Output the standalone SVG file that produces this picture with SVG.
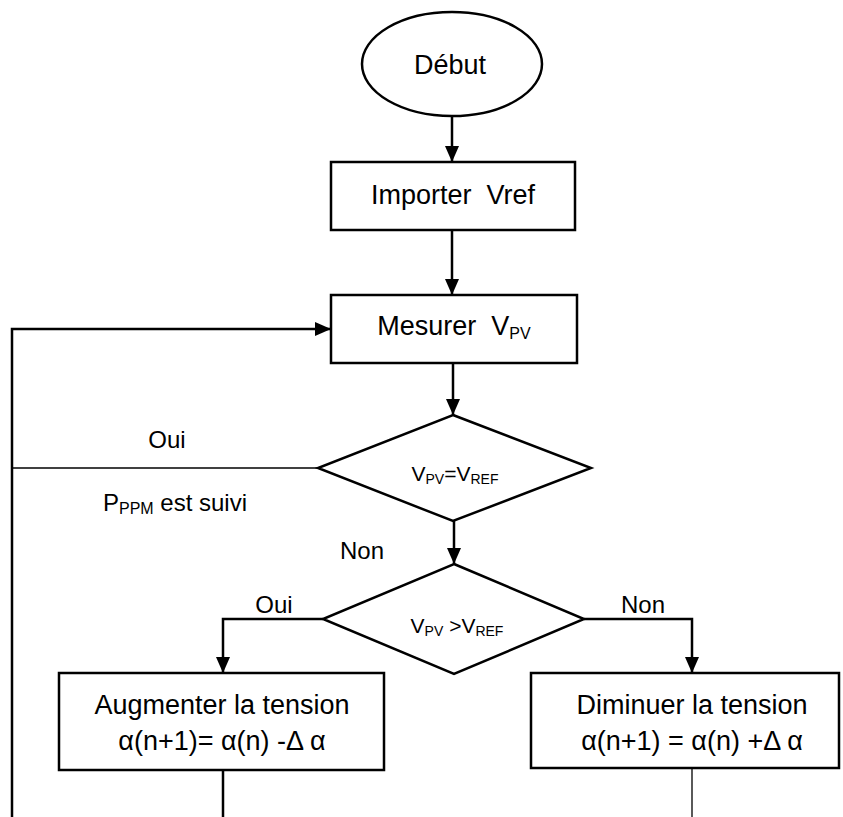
<svg xmlns="http://www.w3.org/2000/svg" width="843" height="817" viewBox="0 0 843 817">
<style>
.n{fill:#fff;stroke:#000;stroke-width:2.5}
.t{font-family:"Liberation Sans",Arial,sans-serif;font-size:27px;fill:#000;text-anchor:middle}
.s{font-size:16px}
.d{font-size:21px}
.ds{font-size:14px}
.l{font-size:24px}
.c{fill:none;stroke:#000;stroke-width:2.5}
.th{fill:none;stroke:#000;stroke-width:1.3}
</style>
<defs>
<marker id="ah" markerWidth="16" markerHeight="14" refX="16" refY="7" orient="auto" markerUnits="userSpaceOnUse">
<path d="M0,0 L16,7 L0,14 Z" fill="#000"/>
</marker>
</defs>
<g id="connectors">
<line class="c" x1="452" y1="117" x2="452" y2="162" marker-end="url(#ah)"/>
<line class="c" x1="452" y1="230" x2="452" y2="295" marker-end="url(#ah)"/>
<line class="c" x1="453" y1="363" x2="453" y2="415" marker-end="url(#ah)"/>
<line class="c" x1="454" y1="520" x2="454" y2="564" marker-end="url(#ah)"/>
<polyline class="th" points="318,468 12,468"/>
<polyline class="c" points="12,817 12,329 331,329" marker-end="url(#ah)"/>
<polyline class="c" points="323,619 223,619 223,673" marker-end="url(#ah)"/>
<polyline class="c" points="584,619 692,619 692,673" marker-end="url(#ah)"/>
<line class="c" x1="223" y1="770" x2="223" y2="817"/>
<line class="th" x1="692" y1="768" x2="692" y2="817"/>
</g>
<g id="debut">
<ellipse class="n" cx="452" cy="64" rx="90" ry="52"/>
<text class="t" x="450" y="74">Début</text>
</g>
<g id="importer">
<rect class="n" x="331" y="162" width="244" height="68"/>
<text class="t" x="453" y="204" xml:space="preserve">Importer  Vref</text>
</g>
<g id="mesurer">
<rect class="n" x="331" y="295" width="246" height="68"/>
<text class="t" x="454" y="335" xml:space="preserve">Mesurer  V<tspan class="s" dy="4">PV</tspan></text>
</g>
<g id="test1">
<polygon class="n" points="453,415 591,468 453,521 318,468"/>
<text class="t d" x="455" y="481">V<tspan class="ds" dy="3">PV</tspan><tspan dy="-3">=V</tspan><tspan class="ds" dy="3">REF</tspan></text>
</g>
<g id="test2">
<polygon class="n" points="454,564 584,619 454,674 323,619"/>
<text class="t d" x="457" y="633">V<tspan class="ds" dy="3">PV</tspan><tspan dy="-3"> &gt;V</tspan><tspan class="ds" dy="3">REF</tspan></text>
</g>
<g id="augmenter">
<rect class="n" x="59" y="673" width="325" height="97"/>
<text class="t" x="222" y="714">Augmenter la tension</text>
<text class="t" x="222" y="750">α(n+1)= α(n) -Δ α</text>
</g>
<g id="diminuer">
<rect class="n" x="531" y="673" width="308" height="95"/>
<text class="t" x="692" y="714">Diminuer la tension</text>
<text class="t" x="692" y="750">α(n+1) = α(n) +Δ α</text>
</g>
<g id="labels">
<text class="t l" x="167" y="448">Oui</text>
<text class="t l" x="175" y="511" xml:space="preserve">P<tspan class="s" dy="3">PPM</tspan><tspan dy="-3"> est suivi</tspan></text>
<text class="t l" x="362" y="559">Non</text>
<text class="t l" x="274" y="613">Oui</text>
<text class="t l" x="643" y="613">Non</text>
</g>
</svg>
